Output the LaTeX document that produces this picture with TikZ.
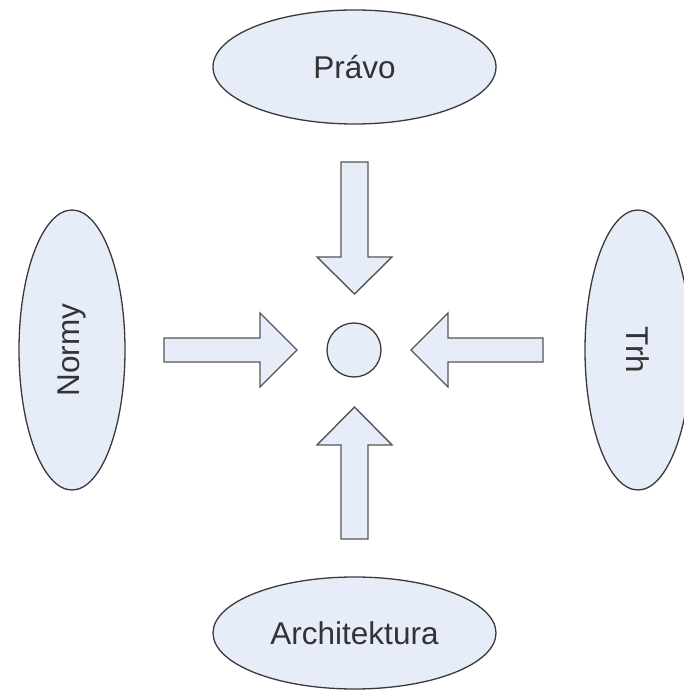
\documentclass[tikz,border=0pt]{standalone}
\usepackage{fontspec}
\setmainfont{Liberation Sans}
\usetikzlibrary{shapes.geometric}
\definecolor{fillblue}{HTML}{E6EDF8}
\definecolor{edge}{HTML}{3A3A3A}
\definecolor{arrowedge}{HTML}{555555}
\definecolor{txt}{HTML}{333333}
\tikzset{
  oval/.style={ellipse, draw=edge, fill=fillblue, line width=1.3pt, inner sep=0pt,
    text=txt, font=\fontsize{31.5}{36}\selectfont},
  blockarrow/.style={draw=arrowedge, fill=fillblue, line width=1.4pt, line join=miter}
}
\begin{document}
\begin{tikzpicture}[x=1pt,y=1pt]
\useasboundingbox (0,0) rectangle (684,691);
\node[oval, minimum width=283pt, minimum height=114pt] (pravo) at (354.5,624) {Právo};
\node[oval, minimum width=283pt, minimum height=112pt] (arch) at (354.5,58) {Architektura};
\node[oval, rotate=90, minimum width=280pt, minimum height=106pt] (normy) at (72,341) {Normy};
\node[oval, rotate=-90, minimum width=280pt, minimum height=106pt] (trh) at (638,341) {Trh};
\node[circle, draw=edge, fill=fillblue, line width=1.3pt, minimum size=54pt, inner sep=0pt] (c) at (354,341) {};
% top arrow
\draw[blockarrow] (341,529) -- (368,529) -- (368,434) -- (392,434) -- (354.5,397) -- (317,434) -- (341,434) -- cycle;
% bottom arrow
\draw[blockarrow] (341,152) -- (368,152) -- (368,246) -- (392,246) -- (354.5,284) -- (317,246) -- (341,246) -- cycle;
% left arrow
\draw[blockarrow] (164,353) -- (260,353) -- (260,378) -- (297,341) -- (260,304) -- (260,329) -- (164,329) -- cycle;
% right arrow
\draw[blockarrow] (543,353) -- (448,353) -- (448,378) -- (411,341) -- (448,304) -- (448,329) -- (543,329) -- cycle;
\end{tikzpicture}
\end{document}
